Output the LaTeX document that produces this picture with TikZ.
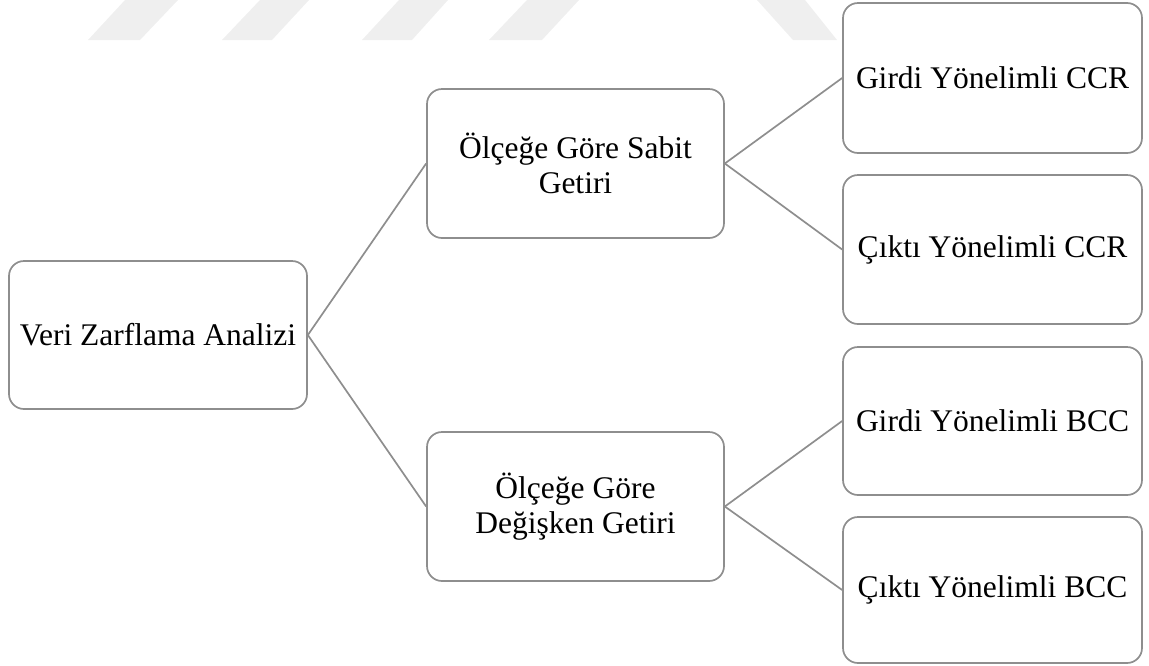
\documentclass[tikz,border=0pt]{standalone}
\usepackage{fontspec}
\setmainfont{Liberation Serif}
\definecolor{framegray}{HTML}{8E8E8E}
\definecolor{markgray}{HTML}{EFEFEF}
\tikzset{
  box/.style={draw=framegray, line width=1.7pt, rounded corners=15pt, fill=white,
    align=center, inner sep=0pt, font=\fontsize{31.5}{34.5}\selectfont},
  rootbox/.style={box, minimum width=298pt, minimum height=148pt},
  midbox/.style={box, minimum width=297pt, minimum height=149pt},
  leafbox/.style={box, minimum width=299pt, minimum height=148pt},
  link/.style={draw=framegray, line width=1.7pt}
}
\begin{document}
\begin{tikzpicture}[x=1pt, y=-1pt]
  \useasboundingbox (0,0) rectangle (1149,665);
  % faint stripes along the top edge
  \fill[markgray] (88,40) -- (140,40) -- (178,0) -- (125,0) -- cycle;
  \fill[markgray] (222,40) -- (272,40) -- (309,0) -- (260,0) -- cycle;
  \fill[markgray] (362,40) -- (412,40) -- (448,0) -- (399,0) -- cycle;
  \fill[markgray] (489,40) -- (542,40) -- (579,0) -- (527,0) -- cycle;
  \fill[markgray] (757,0) -- (805,0) -- (837,40) -- (793,40) -- cycle;

  % boxes
  \node[rootbox] (dea) at (158,335) {Veri Zarflama Analizi};
  \node[midbox] (crs) at (575.5,163.5) {Ölçeğe Göre Sabit\\Getiri};
  \node[midbox] (vrs) at (575.5,506.5) {Ölçeğe Göre\\Değişken Getiri};
  \node[leafbox, minimum height=150pt] (ccri) at (992.5,78) {Girdi Yönelimli CCR};
  \node[leafbox, minimum height=149pt] (ccro) at (992.5,249.5) {Çıktı Yönelimli CCR};
  \node[leafbox] (bcci) at (992.5,421) {Girdi Yönelimli BCC};
  \node[leafbox, minimum height=146pt] (bcco) at (992.5,590) {Çıktı Yönelimli BCC};

  % connectors
  \draw[link] (dea.east) -- (crs.west);
  \draw[link] (dea.east) -- (vrs.west);
  \draw[link] (crs.east) -- (ccri.west);
  \draw[link] (crs.east) -- (ccro.west);
  \draw[link] (vrs.east) -- (bcci.west);
  \draw[link] (vrs.east) -- (bcco.west);
\end{tikzpicture}
\end{document}
